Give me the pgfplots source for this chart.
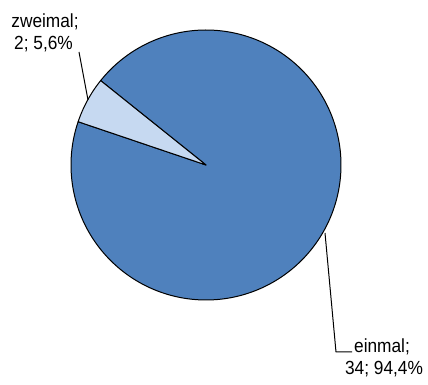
\documentclass[border=0pt]{standalone}
\usepackage{pgfplots}
\pgfplotsset{compat=1.18}
\usepackage{pgfplotstable}
\usepackage{fontspec}
\setmainfont{Liberation Sans}[FakeStretch=0.91]
\definecolor{pieA}{HTML}{4F81BD}
\definecolor{pieB}{HTML}{C6D9F1}
\pgfplotstableread{
label value
einmal 34
zweimal 2
}\piedata
\pgfplotstablegetelem{0}{value}\of\piedata \let\va\pgfplotsretval
\pgfplotstablegetelem{1}{value}\of\piedata \let\vb\pgfplotsretval
\pgfmathsetmacro\tot{\va+\vb}
\pgfmathsetmacro\sB{141.3}
\pgfmathsetmacro\eB{\sB+360*\vb/\tot}
\pgfmathsetmacro\eA{\eB+360*\va/\tot}
\begin{document}%
\begin{tikzpicture}
\begin{axis}[
  width=428pt, height=385pt, scale only axis,
  xmin=0, xmax=428, ymin=0, ymax=385,
  hide axis, clip=false,
]
\addplot[draw=none] coordinates {(0,0) (428,385)};
\addplot[fill=pieA, draw=black, line width=1pt, line join=round, domain=\eB:\eA, samples=300, variable=\t]
  ({206+135*cos(\t)},{220+135*sin(\t)}) -- (axis cs:206,220) -- cycle;
\addplot[fill=pieB, draw=black, line width=1pt, line join=round, domain=\sB:\eB, samples=40, variable=\t]
  ({206+135*cos(\t)},{220+135*sin(\t)}) -- (axis cs:206,220) -- cycle;
% leader lines
\addplot[black, line width=1pt] coordinates {(79,333) (88,285)};
\addplot[black, line width=1pt] coordinates {(325,152) (336,33) (352,33)};
% labels
\node[anchor=base, inner sep=0pt, font=\fontsize{19}{22}\selectfont] at (axis cs:45,357.3) {zweimal;};
\node[anchor=base, inner sep=0pt, font=\fontsize{19}{22}\selectfont] at (axis cs:43.5,335) {2; 5,6\%};
\node[anchor=base, inner sep=0pt, font=\fontsize{19}{22}\selectfont] at (axis cs:382,32) {einmal;};
\node[anchor=base, inner sep=0pt, font=\fontsize{19}{22}\selectfont] at (axis cs:384,10) {34; 94,4\%};
\end{axis}
\end{tikzpicture}%
\end{document}
